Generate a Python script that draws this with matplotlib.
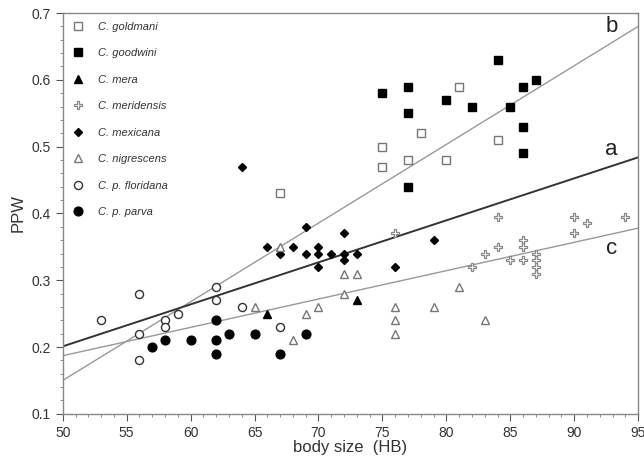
import matplotlib
matplotlib.use("Agg")
import matplotlib.pyplot as plt
from matplotlib.ticker import MultipleLocator

plt.rcParams['font.family'] = ['Liberation Sans', 'DejaVu Sans']

# ---- data ----
goldmani_x = [67, 75, 75, 77, 78, 80, 81, 84]
goldmani_y = [0.43, 0.50, 0.47, 0.48, 0.52, 0.48, 0.59, 0.51]
goodwini_x = [75, 77, 77, 77, 80, 82, 84, 85, 86, 86, 86, 87]
goodwini_y = [0.58, 0.59, 0.55, 0.44, 0.57, 0.56, 0.63, 0.56, 0.59, 0.53, 0.49, 0.60]
mera_x = [66, 73]
mera_y = [0.25, 0.27]
meridensis_x = [76, 82, 83, 84, 84, 85, 86, 86, 86, 87, 87, 87, 87, 90, 90, 91, 94]
meridensis_y = [0.37, 0.32, 0.34, 0.395, 0.35, 0.33, 0.36, 0.35, 0.33, 0.34, 0.33, 0.32, 0.31,
                0.395, 0.37, 0.385, 0.395]
mexicana_x = [64, 66, 67, 68, 69, 69, 70, 70, 70, 71, 72, 72, 72, 73, 76, 79]
mexicana_y = [0.47, 0.35, 0.34, 0.35, 0.38, 0.34, 0.35, 0.34, 0.32, 0.34, 0.37, 0.34, 0.33,
              0.34, 0.32, 0.36]
nigrescens_x = [65, 67, 68, 69, 70, 72, 72, 73, 76, 76, 76, 79, 81, 83]
nigrescens_y = [0.26, 0.35, 0.21, 0.25, 0.26, 0.31, 0.28, 0.31, 0.26, 0.24, 0.22, 0.26, 0.29, 0.24]
floridana_x = [53, 56, 56, 56, 58, 58, 59, 62, 62, 64, 67]
floridana_y = [0.24, 0.28, 0.22, 0.18, 0.24, 0.23, 0.25, 0.29, 0.27, 0.26, 0.23]
parva_x = [57, 58, 60, 62, 62, 62, 63, 65, 67, 69]
parva_y = [0.20, 0.21, 0.21, 0.24, 0.21, 0.19, 0.22, 0.22, 0.19, 0.22]

fit_x = [50, 95]
fit_a = [0.201, 0.484]
fit_b = [0.150, 0.680]
fit_c = [0.187, 0.378]

x_ticks = [50, 55, 60, 65, 70, 75, 80, 85, 90, 95]
y_ticks = [0.1, 0.2, 0.3, 0.4, 0.5, 0.6, 0.7]

# ---- figure ----
fig = plt.figure(figsize=(6.44, 4.65), dpi=100)
ax = fig.add_axes([0.0974, 0.110, 0.8936, 0.862])

gray = '#777777'
ax.plot(fit_x, fit_b, color='#999999', lw=1.0, zorder=1)
ax.plot(fit_x, fit_c, color='#999999', lw=1.0, zorder=1)
ax.plot(fit_x, fit_a, color='#333333', lw=1.4, zorder=1)

ms = 5.8
ax.plot(goldmani_x, goldmani_y, 's', ms=ms, mfc='white', mec=gray, mew=1.0, ls='none',
        label='C. goldmani', zorder=3)
ax.plot(goodwini_x, goodwini_y, 's', ms=ms + 0.5, mfc='black', mec='black', ls='none',
        label='C. goodwini', zorder=3)
ax.plot(mera_x, mera_y, '^', ms=ms, mfc='black', mec='black', ls='none',
        label='C. mera', zorder=3)
ax.plot(meridensis_x, meridensis_y, 'P', ms=6, mfc='white', mec='#888888', mew=0.9,
        ls='none', label='C. meridensis', zorder=3)
ax.plot(mexicana_x, mexicana_y, 'D', ms=4.2, mfc='black', mec='black', ls='none',
        label='C. mexicana', zorder=3)
ax.plot(nigrescens_x, nigrescens_y, '^', ms=ms, mfc='white', mec=gray, mew=1.0, ls='none',
        label='C. nigrescens', zorder=3)
ax.plot(floridana_x, floridana_y, 'o', ms=ms, mfc='white', mec='#333333', mew=1.0, ls='none',
        label='C. p. floridana', zorder=3)
ax.plot(parva_x, parva_y, 'o', ms=ms + 0.5, mfc='black', mec='black', ls='none',
        label='C. p. parva', zorder=3)

leg = ax.legend(loc='upper left', bbox_to_anchor=(0.0, 1.0), frameon=False,
                prop={'style': 'italic', 'size': 8}, labelspacing=1.48,
                handletextpad=1.2, handlelength=1.2, borderaxespad=0.4,
                labelcolor='#333333')

ax.text(92.9, 0.68, 'b', fontsize=16, ha='center', va='center', color='#222222')
ax.text(92.9, 0.495, 'a', fontsize=16, ha='center', va='center', color='#222222')
ax.text(92.9, 0.348, 'c', fontsize=16, ha='center', va='center', color='#222222')

ax.set_xlim(50, 95)
ax.set_ylim(0.1, 0.7)
ax.set_xticks(x_ticks)
ax.set_yticks(y_ticks)
ax.set_yticklabels(['%.1f' % v for v in y_ticks])
ax.xaxis.set_minor_locator(MultipleLocator(1))
ax.yaxis.set_minor_locator(MultipleLocator(0.02))
ax.tick_params(axis='both', which='major', direction='out', length=5, width=0.8,
               colors='#555555', labelcolor='#333333', labelsize=10)
ax.tick_params(axis='both', which='minor', direction='out', length=2.5, width=0.6,
               colors='#777777')
for s in ax.spines.values():
    s.set_color('#888888')
    s.set_linewidth(1.0)

ax.set_xlabel('body size  (HB)', fontsize=12, color='#333333', labelpad=0)
ax.set_ylabel('PPW', fontsize=12, color='#333333', labelpad=4)

fig.savefig('out.png', dpi=100)
